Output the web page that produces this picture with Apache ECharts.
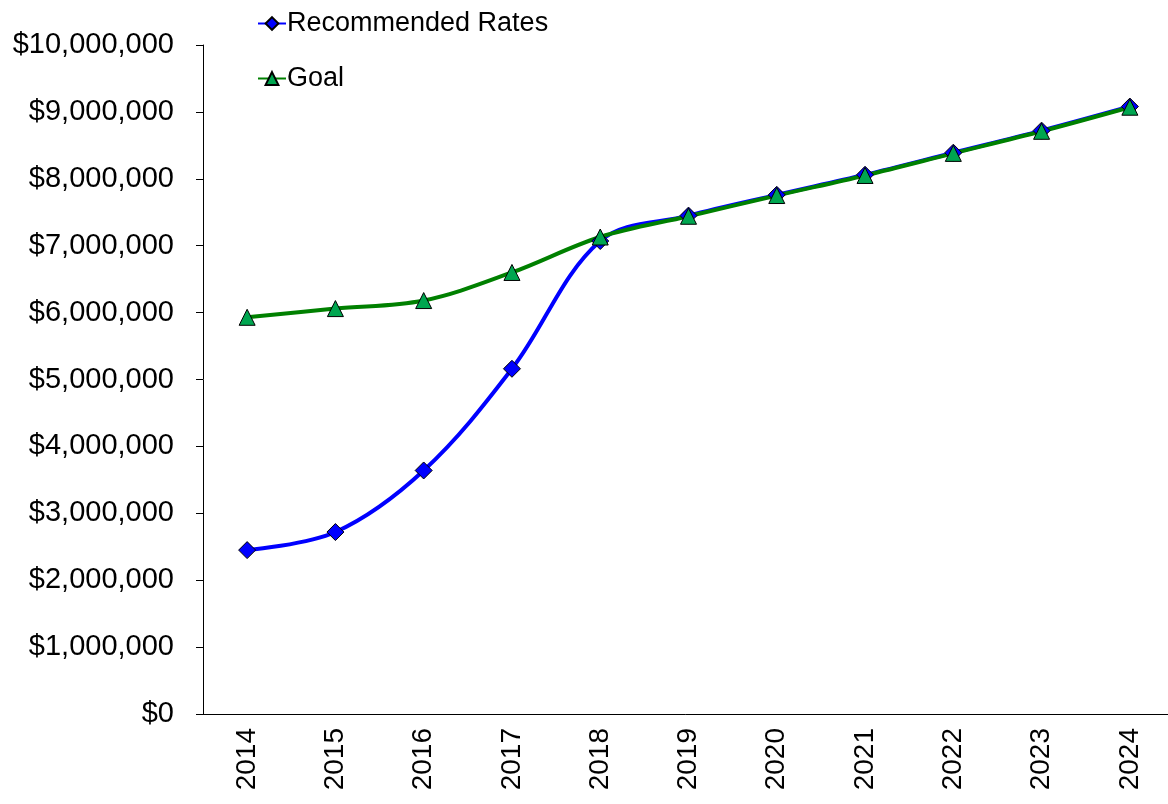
<!DOCTYPE html>
<html>
<head>
<meta charset="utf-8">
<script src="https://cdn.jsdelivr.net/npm/echarts@6/dist/echarts.min.js"></script>
<style>
  html, body { margin: 0; padding: 0; background: #fff; }
  #chart { width: 1168px; height: 804px; }
</style>
</head>
<body>
<div id="chart"></div>
<script>
var years = ['2014', '2015', '2016', '2017', '2018', '2019', '2020', '2021', '2022', '2023', '2024'];
var recommended = [2450000, 2720000, 3640000, 5160000, 7070000, 7450000, 7760000, 8060000, 8390000, 8720000, 9080000];
var goal = [5930000, 6060000, 6180000, 6600000, 7130000, 7440000, 7750000, 8050000, 8380000, 8710000, 9070000];

var myChart = echarts.init(document.getElementById('chart'));
var font = 'Liberation Sans, Arial, sans-serif';

option = {
  animation: false,
  backgroundColor: '#fff',
  textStyle: { fontFamily: font },
  legend: {
    orient: 'vertical',
    left: 252,
    top: 5,
    itemGap: 28,
    itemWidth: 28,
    itemHeight: 16,
    textStyle: { fontSize: 27, color: '#000', fontFamily: font, padding: [0, 0, 0, -4] },
    data: ['Recommended Rates', 'Goal']
  },
  grid: { left: 203, width: 971, top: 45, height: 669, outerBoundsMode: 'none' },
  xAxis: {
    type: 'category',
    data: years,
    boundaryGap: true,
    axisLine: { lineStyle: { color: '#000', width: 1 } },
    axisTick: { inside: true, length: 8, lineStyle: { color: '#000' } },
    axisLabel: { rotate: 90, margin: 14, fontSize: 28, color: '#000', fontFamily: font }
  },
  yAxis: {
    type: 'value',
    min: 0,
    max: 10000000,
    interval: 1000000,
    splitLine: { show: false },
    axisLine: { show: true, lineStyle: { color: '#000', width: 1 } },
    axisTick: { show: true, length: 7, lineStyle: { color: '#000' } },
    axisLabel: {
      margin: 29,
      fontSize: 29,
      color: '#000',
      fontFamily: font,
      formatter: function (v) { return '$' + v.toLocaleString('en-US'); }
    }
  },
  series: [
    {
      name: 'Recommended Rates',
      type: 'line',
      data: recommended,
      smooth: 0.35,
      symbol: 'diamond',
      symbolSize: 17,
      lineStyle: { color: '#0000ff', width: 4 },
      itemStyle: { color: '#0000ff', borderColor: '#000', borderWidth: 1 }
    },
    {
      name: 'Goal',
      type: 'line',
      data: goal,
      smooth: 0.35,
      symbol: 'triangle',
      symbolSize: 16,
      lineStyle: { color: '#008000', width: 4 },
      itemStyle: { color: '#00a650', borderColor: '#000', borderWidth: 1 }
    }
  ]
};

myChart.setOption(option);
</script>
</body>
</html>
